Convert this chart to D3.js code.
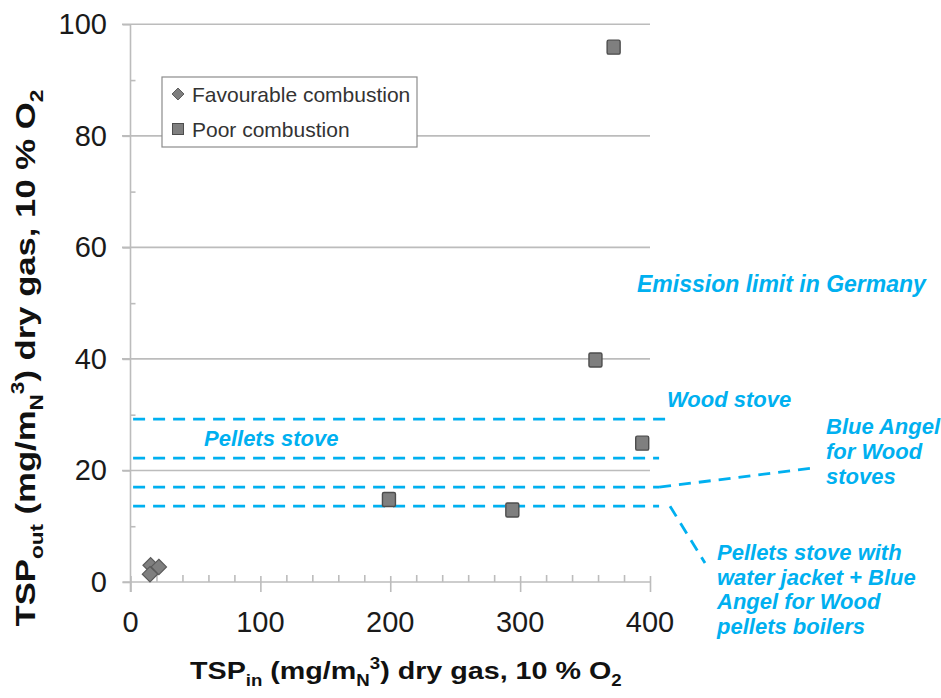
<!DOCTYPE html>
<html>
<head>
<meta charset="utf-8">
<script src="https://cdn.jsdelivr.net/npm/d3@7"></script>
<style>
	body { margin: 0; background: #fff; }
	text { font-family: "Liberation Sans", Arial, sans-serif; }
</style>
</head>
<body>
<div id="chart"></div>
<script>
// data
var favX = [15.5, 21.8, 15];
var favY = [3.0, 2.7, 1.4];
var poorX = [199, 294, 358, 372, 394];
var poorY = [14.8, 12.9, 39.8, 95.9, 24.9];
var xTicks = [0, 100, 200, 300, 400];
var yTicks = [0, 20, 40, 60, 80, 100];
var limitNames = ["Wood stove", "Pellets stove", "Blue Angel for Wood stoves", "Pellets stove with water jacket + Blue Angel for Wood pellets boilers"];
var limitValues = [29.2, 22.2, 17, 13.6];
var limitEnds = [415, 407, 407, 407];
var legendNames = ["Favourable combustion", "Poor combustion"];

var width = 941;
var height = 698;
var blue = "#00b0f0";
var grid = "#bcbcbc";

var svg = d3.select("#chart")
			.append("svg")
			.attr("width", width)
			.attr("height", height);

var x = d3.scaleLinear().domain([0, 400]).range([130.5, 650]);
var y = d3.scaleLinear().domain([0, 100]).range([582, 24.3]);

// gridlines
svg.selectAll(".grid")
	.data(yTicks.slice(1))
	.enter()
	.append("line")
	.attr("x1", 122).attr("x2", 650)
	.attr("y1", function(d) { return y(d); })
	.attr("y2", function(d) { return y(d); })
	.attr("stroke", grid).attr("stroke-width", 1.6);

// y axis, major ticks outside, minor ones inside
var yAxis = svg.append("g")
	.attr("transform", "translate(" + x(0) + ",0)")
	.call(d3.axisLeft(y).tickValues(yTicks).tickSize(8).tickFormat(""));
yAxis.select(".domain").attr("d", "M0," + y(100) + "V" + (y(0) + 10));
svg.append("g")
	.attr("transform", "translate(" + x(0) + ",0)")
	.call(d3.axisRight(y).tickValues([10, 30, 50, 70, 90]).tickSize(5).tickFormat(""))
	.select(".domain").remove();

var xAxis = svg.append("g")
	.attr("transform", "translate(0," + y(0) + ")")
	.call(d3.axisBottom(x).tickValues(xTicks).tickSize(10).tickFormat(""));
xAxis.select(".domain").attr("d", "M" + (x(0) - 8) + ",0H" + x(400));
xAxis.selectAll(".tick line").attr("y1", -6);
svg.append("g")
	.attr("transform", "translate(0," + y(0) + ")")
	.call(d3.axisTop(x).tickValues(d3.range(20, 400, 20).filter(function(v) { return v % 100; })).tickSize(7).tickFormat(""))
	.select(".domain").remove();

svg.selectAll(".domain, .tick line")
	.attr("stroke", grid).attr("stroke-width", 1.6);

// tick labels
svg.selectAll(".ylab")
	.data(yTicks)
	.enter()
	.append("text")
	.attr("x", 107)
	.attr("y", function(d) { return y(d) + 10; })
	.attr("text-anchor", "end")
	.attr("font-size", 29)
	.attr("fill", "#1a1a1a")
	.text(function(d) { return d; });

svg.selectAll(".xlab")
	.data(xTicks)
	.enter()
	.append("text")
	.attr("x", function(d) { return x(d); })
	.attr("y", 632)
	.attr("text-anchor", "middle")
	.attr("font-size", 29)
	.attr("fill", "#1a1a1a")
	.text(function(d) { return d; });

// axis titles with sub/superscripts
function richText(g, parts, size) {
	var t = g.append("text")
		.attr("font-size", size)
		.attr("font-weight", "bold")
		.attr("fill", "#111");
	var shift = 0;
	parts.forEach(function(p) {
		var target = p[1] == "sub" ? size * 0.3 : (p[1] == "sup" ? -size * 0.4 : 0);
		t.append("tspan")
			.attr("dy", target - shift)
			.attr("font-size", p[1] ? size * 0.65 : size)
			.text(p[0]);
		shift = target;
	});
	return t;
}

function fitTitle(t, len) {
	var w = t.node().getBBox().width;
	t.attr("transform", "scale(" + (len / w) + ",1)")
	 .attr("x", -w / 2);
}

var xTitle = svg.append("g").attr("transform", "translate(406,679)");
fitTitle(richText(xTitle, [["TSP"], ["in", "sub"], [" (mg/m"], ["N", "sub"], ["3", "sup"], [") dry gas, 10 % O"], ["2", "sub"]], 24), 432);

var yTitle = svg.append("g").attr("transform", "translate(35,358) rotate(-90)");
fitTitle(richText(yTitle, [["TSP"], ["out", "sub"], [" (mg/m"], ["N", "sub"], ["3", "sup"], [") dry gas, 10 % O"], ["2", "sub"]], 28), 537);

// emission limit lines
svg.selectAll(".limit")
	.data(limitValues)
	.enter()
	.append("line")
	.attr("x1", x(2))
	.attr("x2", function(d, i) { return x(limitEnds[i]); })
	.attr("y1", function(d) { return y(d); })
	.attr("y2", function(d) { return y(d); })
	.attr("stroke", blue)
	.attr("stroke-width", 2.8)
	.attr("stroke-dasharray", "12,8");

// leader lines to the side labels
svg.append("path")
	.attr("d", "M" + x(407) + "," + y(limitValues[2]) + "L813,468")
	.attr("fill", "none").attr("stroke", blue).attr("stroke-width", 2.8).attr("stroke-dasharray", "12,8");
svg.append("path")
	.attr("d", "M670," + y(limitValues[3]) + "L705,563")
	.attr("fill", "none").attr("stroke", blue).attr("stroke-width", 2.8).attr("stroke-dasharray", "12,8");

function blueText(lines, tx, ty, step, size) {
	var t = svg.append("text")
		.attr("font-size", size)
		.attr("font-weight", "bold")
		.attr("font-style", "italic")
		.attr("fill", blue);
	lines.forEach(function(l, i) {
		t.append("tspan").attr("x", tx).attr("y", ty + i * step).text(l);
	});
}

blueText(["Emission limit in Germany"], 637, 292, 0, 23);
blueText([limitNames[0]], 667, 407, 0, 22);
blueText([limitNames[1]], 204, 446, 0, 22);
blueText(["Blue Angel", "for Wood", "stoves"], 826, 434, 25, 22);
blueText(["Pellets stove with", "water jacket + Blue", "Angel for Wood", "pellets boilers"], 717, 560, 24.7, 22);

// markers
var diamond = d3.symbol().type(d3.symbolDiamond2).size(150);

svg.selectAll(".fav")
	.data(favX)
	.enter()
	.append("path")
	.attr("transform", function(d, i) { return "translate(" + x(d) + "," + y(favY[i]) + ")"; })
	.attr("d", diamond)
	.attr("fill", "#7f7f7f")
	.attr("stroke", "#5a5a5a")
	.attr("stroke-width", 1.2);

svg.selectAll(".poor")
	.data(poorX)
	.enter()
	.append("rect")
	.attr("x", function(d) { return x(d) - 6.5; })
	.attr("y", function(d, i) { return y(poorY[i]) - 7; })
	.attr("width", 13)
	.attr("height", 14)
	.attr("rx", 1.5)
	.attr("fill", "#7f7f7f")
	.attr("stroke", "#4d4d4d")
	.attr("stroke-width", 1.4);

// legend
var legend = svg.append("g");
legend.append("rect")
	.attr("x", 162).attr("y", 77)
	.attr("width", 255).attr("height", 70)
	.attr("fill", "#fff")
	.attr("stroke", "#8c8c8c")
	.attr("stroke-width", 1.2);
legend.append("path")
	.attr("transform", "translate(178,94)")
	.attr("d", d3.symbol().type(d3.symbolDiamond2).size(90))
	.attr("fill", "#7f7f7f").attr("stroke", "#5a5a5a");
legend.append("rect")
	.attr("x", 172.5).attr("y", 123.5)
	.attr("width", 11).attr("height", 11)
	.attr("fill", "#7f7f7f").attr("stroke", "#4d4d4d");
legend.selectAll(".lname")
	.data(legendNames)
	.enter()
	.append("text")
	.attr("x", 192)
	.attr("y", function(d, i) { return 102 + i * 35; })
	.attr("font-size", 21)
	.attr("fill", "#333")
	.text(function(d) { return d; });
</script>
</body>
</html>
